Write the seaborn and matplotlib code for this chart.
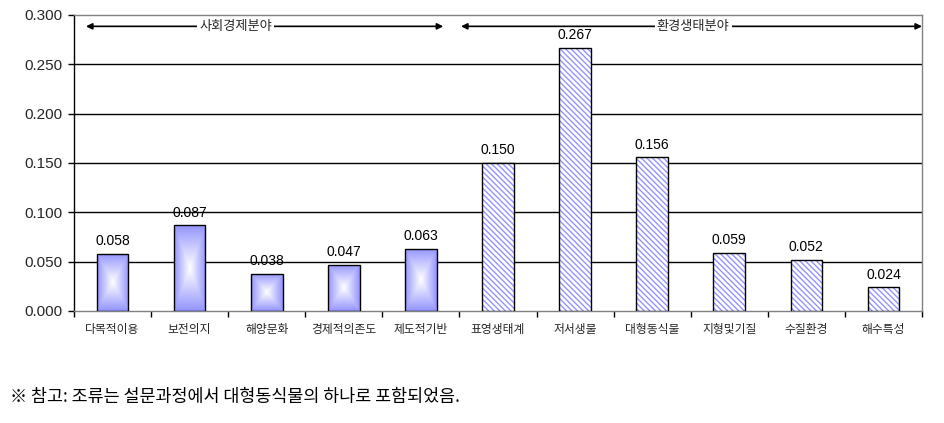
import numpy as np
import pandas as pd
import matplotlib
matplotlib.use("Agg")
import matplotlib.pyplot as plt
import seaborn as sns
from matplotlib.colors import to_rgba

categories = ["다목적이용", "보전의지", "해양문화", "경제적의존도", "제도적기반",
              "표영생태계", "저서생물", "대형동식물", "지형및기질", "수질환경", "해수특성"]
values = [0.058, 0.087, 0.038, 0.047, 0.063, 0.150, 0.267, 0.156, 0.059, 0.052, 0.024]
groups = ["사회경제분야"] * 5 + ["환경생태분야"] * 6
yticks = [0.0, 0.05, 0.10, 0.15, 0.20, 0.25, 0.30]
note = "※ 참고: 조류는 설문과정에서 대형동식물의 하나로 포함되었음."

sns.set_theme(style="white")
plt.rcParams["font.family"] = ["Noto Sans CJK KR", "DejaVu Sans"]
plt.rcParams["hatch.linewidth"] = 1.0

BLUE = "#9494FF"
NUMFONT = ["Liberation Sans", "DejaVu Sans"]
df = pd.DataFrame({"cat": categories, "val": values, "grp": groups})

fig = plt.figure(figsize=(9.44, 4.23), dpi=100)
ax = fig.add_axes([74 / 944, 1 - 311 / 423, 848 / 944, 296 / 423])

sns.barplot(data=df, x="cat", y="val", color=BLUE, width=0.41, ax=ax,
            saturation=1, edgecolor="black", linewidth=1.0, zorder=3)

ax.set_ylim(0, 0.30)
ax.set_xlim(-0.5, len(categories) - 0.5)

bars = ax.patches[:len(categories)]
for bar, g in zip(bars, groups):
    x, y = bar.get_x(), bar.get_y()
    w, h = bar.get_width(), bar.get_height()
    if g == groups[0]:
        # rectangular centre-to-edge gradient
        n = 200
        u = np.linspace(-1, 1, n)
        U, V = np.meshgrid(u, u)
        t = np.clip(np.maximum(np.abs(U), np.abs(V)), 0, 1)
        b = np.array(to_rgba(BLUE)[:3])
        img = (1 - t)[..., None] * np.array([1, 1, 1]) + t[..., None] * b
        im = ax.imshow(img, extent=[x, x + w, y, y + h], aspect="auto",
                       zorder=2.9, interpolation="bilinear")
        im.set_clip_path(bar)
        bar.set_facecolor("none")
    else:
        bar.set_facecolor("white")
        bar.set_hatch("\\\\\\\\\\\\")
        bar._hatch_color = to_rgba(BLUE)
    ax.annotate(f"{h:.3f}", (x + w / 2, h), xytext=(0, 4), textcoords="offset points",
                ha="center", va="bottom", fontsize=10,
                family=NUMFONT, color="black", zorder=5)

ax.set_xlim(-0.5, len(categories) - 0.5)
ax.set_ylim(0, 0.30)

# grid
ax.set_yticks(yticks)
ax.set_yticklabels([f"{v:.3f}" for v in yticks], family=NUMFONT, fontsize=11)
for v in yticks[1:-1]:
    ax.axhline(v, color="black", lw=1.0, zorder=1)

# x ticks at boundaries
ax.set_xticks(np.arange(-0.5, len(categories), 1.0), minor=False)
ax.set_xticklabels([])
ax.set_xticks(np.arange(len(categories)), minor=True)
ax.set_xticklabels(categories, minor=True, fontsize=8.5)
ax.tick_params(axis="x", which="major", direction="out", length=4, width=1, color="black", bottom=True)
ax.tick_params(axis="x", which="minor", length=0, pad=9)
ax.tick_params(axis="y", direction="out", length=4, width=1, color="black", left=True, pad=4)
ax.set_xlabel("")
ax.set_ylabel("")

for s in ["top", "right", "bottom"]:
    ax.spines[s].set_color("#808080")
    ax.spines[s].set_linewidth(1.0)
ax.spines["left"].set_color("black")
ax.spines["left"].set_linewidth(1.0)
for s in ax.spines.values():
    s.set_visible(True)

# group arrows
ya = 0.2885
arrowprops = dict(arrowstyle="<|-|>", color="black", lw=1.2, mutation_scale=9,
                  shrinkA=0, shrinkB=0)
ax.annotate("", xy=(-0.345, ya), xytext=(4.29, ya), arrowprops=arrowprops, zorder=6)
ax.annotate("", xy=(4.52, ya), xytext=(10.5, ya), arrowprops=arrowprops, zorder=6,
            annotation_clip=False)
ax.text(1.6, ya, groups[0], ha="center", va="center", fontsize=9.5, zorder=7,
        bbox=dict(facecolor="white", edgecolor="none", pad=1.5))
ax.text(7.53, ya, groups[5], ha="center", va="center", fontsize=9.5, zorder=7,
        bbox=dict(facecolor="white", edgecolor="none", pad=1.5))

fig.text(10 / 944, 1 - 397 / 423, note, ha="left", va="center", fontsize=12.5,
         color="black")

fig.savefig("out.png", dpi=100)
